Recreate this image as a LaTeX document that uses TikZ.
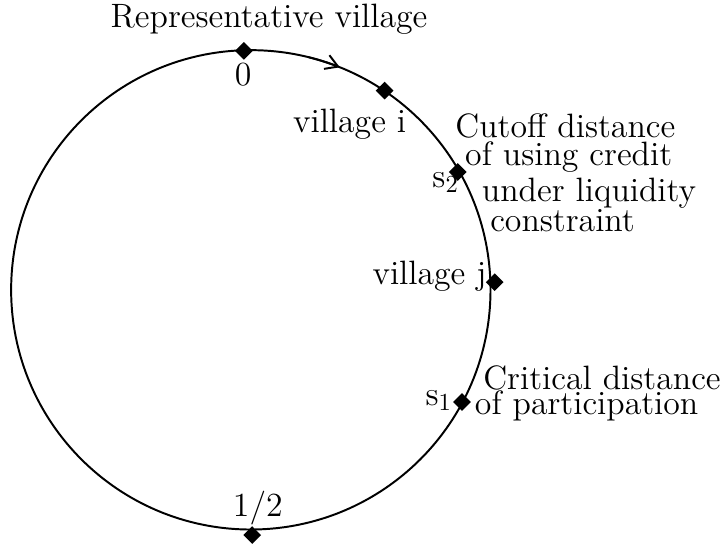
\documentclass[tikz,border=0pt]{standalone}
\usetikzlibrary{shapes.geometric,arrows.meta}
\tikzset{
  spot/.style={diamond,fill=black,inner sep=0pt,minimum size=0.26cm},
  lbl/.style={font=\fontsize{13.8}{16}\selectfont,inner sep=0pt},
  >={Straight Barb[length=5pt,width=6pt]}
}
\begin{document}
\begin{tikzpicture}
			\useasboundingbox (-3.60,-3.69) rectangle (6.82,4.16);
			% Circle of villages
			\draw[line width=0.8pt] (0,0) circle (3.44);
			\draw[line width=0.8pt,->] (76:3.44) arc (76:68.2:3.44);

			% Points on the circle
			\node[spot] (zero) at (-0.10,3.43) {};
			\node[spot] (vi) at (1.92,2.86) {};
			\node[spot] (stwo) at (2.97,1.69) {};
			\node[spot] (vj) at (3.50,0.11) {};
			\node[spot] (sone) at (3.03,-1.61) {};
			\node[spot] (half) at (0.02,-3.52) {};

			% Labels
			\node[lbl,anchor=base west] (rep) at (-2.02,3.76) {Representative village};
			\node[lbl] (zerolbl) at (-0.11,3.09) {0};
			\node[lbl,anchor=base west] (vilbl) at (0.60,2.26) {village i};
			\node[lbl,anchor=base west] (vjlbl) at (1.74,0.07) {village j};
			\node[lbl,anchor=base west] (stwolbl) at (2.60,1.47) {s$_2$};
			\node[lbl,anchor=base west] (sonelbl) at (2.50,-1.66) {s$_1$};
			\node[lbl] (halflbl) at (0.10,-3.13) {1/2};

			\node[lbl,anchor=base west] (cut1) at (2.93,2.19) {Cutoff distance};
			\node[lbl,anchor=base west] (cut2) at (3.07,1.78) {of using credit};
			\node[lbl,anchor=base west] (cut3) at (3.31,1.27) {under liquidity};
			\node[lbl,anchor=base west] (cut4) at (3.43,0.84) {constraint};

			\node[lbl,anchor=base west] (crit1) at (3.33,-1.43) {Critical distance};
			\node[lbl,anchor=base west] (crit2) at (3.21,-1.79) {of participation};
\end{tikzpicture}
\end{document}
